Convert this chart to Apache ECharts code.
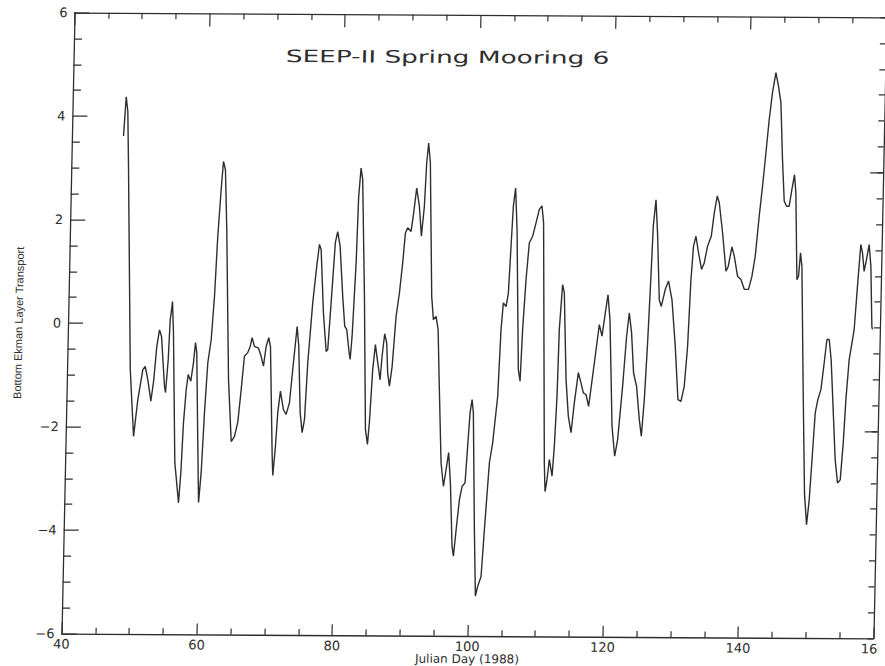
<!DOCTYPE html>
<html>
<head>
<meta charset="utf-8">
<title>SEEP-II Spring Mooring 6</title>
<script src="https://cdn.jsdelivr.net/npm/echarts@6/dist/echarts.min.js"></script>
<style>
  html, body { margin: 0; padding: 0; background: #fff; overflow: hidden; }
  /* the scanned original sits slightly sheared on the page */
  #chart {
    width: 885px;
    height: 666px;
    transform-origin: 474px 325px;
    transform: skewX(-1.2deg) skewY(0.34deg);
  }
</style>
</head>
<body>
<div id="chart"></div>
<script>
  // julian day (1988) and bottom ekman layer transport
  const days = [
    47.62, 47.90, 48.18, 48.45, 49.34, 50.03, 50.55, 51.20, 51.54, 51.96,
    52.48, 52.85, 53.19, 53.54, 53.86, 54.45, 54.62, 54.92, 55.09, 55.21,
    55.37, 55.61, 56.21, 56.88, 57.13, 57.37, 57.67, 57.92, 58.32, 58.66,
    58.90, 59.12, 59.56, 59.84, 60.14, 60.44, 60.78, 61.21, 61.56, 61.86,
    62.22, 62.47, 62.79, 63.17, 63.89, 64.48, 64.95, 65.39, 65.79, 66.17,
    66.65, 66.99, 67.25, 67.62, 68.22, 68.64, 69.01, 69.35, 69.71, 69.99,
    70.58, 70.73, 71.03, 71.27, 71.60, 72.10, 72.51, 72.97, 73.35, 73.87,
    74.17, 74.58, 74.93, 75.24, 75.55, 76.10, 76.58, 76.91, 77.18, 77.71,
    78.23, 78.46, 78.82, 79.26, 79.57, 79.97, 80.51, 80.90, 81.21, 81.57,
    81.80, 82.02, 82.39, 82.56, 82.83, 83.10, 83.72, 84.28, 84.62, 84.84,
    85.17, 85.49, 85.89, 86.29, 86.51, 86.83, 87.16, 87.39, 87.69, 88.03,
    88.46, 88.88, 89.27, 89.58, 89.90, 90.41, 90.74, 91.11, 91.56, 91.95,
    92.30, 92.51, 92.74, 93.05, 93.66, 93.98, 94.37, 94.71, 95.08, 95.56,
    95.98, 96.32, 96.65, 97.00, 97.44, 97.67, 97.99, 98.38, 98.74, 99.17,
    99.44, 99.69, 99.95, 100.18, 100.69, 101.04, 101.35, 101.82, 102.17, 102.70,
    103.12, 103.72, 104.01, 104.27, 104.68, 104.98, 105.23, 105.45, 105.73, 106.07,
    106.69, 106.98, 107.20, 107.55, 107.92, 108.39, 108.85, 109.30, 109.68, 109.97,
    110.82, 111.01, 111.27, 111.55, 112.00, 112.25, 112.49, 112.62, 112.97, 113.25,
    113.77, 114.22, 114.67, 115.07, 115.57, 116.00, 116.37, 116.77, 117.19, 117.90,
    118.52, 118.95, 119.37, 119.71, 120.08, 120.71, 121.19, 121.58, 122.15, 122.59,
    122.91, 123.31, 123.73, 124.22, 124.72, 125.07, 125.40, 125.71, 126.00, 126.19,
    126.51, 126.84, 127.30, 127.62, 128.16, 128.62, 129.18, 129.81, 130.37, 130.82,
    131.26, 131.63, 131.92, 132.20, 132.53, 132.96, 133.46, 133.84, 134.27, 134.79,
    135.16, 135.55, 135.87, 136.45, 137.07, 137.39, 137.88, 138.25, 138.80, 139.31,
    139.83, 140.46, 140.92, 141.35, 141.81, 142.21, 142.61, 142.99, 143.39, 143.84,
    144.26, 144.67, 145.08, 145.46, 145.82, 146.21, 146.56, 146.90, 147.16, 147.58,
    147.81, 148.03, 148.28, 148.86, 149.36, 149.76, 150.08, 150.42, 150.70, 151.05,
    151.47, 151.87, 152.20, 152.54, 152.89, 153.34, 153.79, 154.21, 154.60, 154.93,
    155.19, 155.55, 156.20, 156.55, 156.92, 157.19, 157.49, 157.80, 158.15, 158.47,
    158.80, 158.90
  ]
  const transport = [
    3.62, 4.38, 4.10, 3.04, -0.89, -2.18, -1.47, -0.89, -0.83, -1.08,
    -1.50, -1.08, -0.44, -0.12, -0.25, -1.21, -1.33, -0.69, 0.08, 0.21,
    0.43, -0.17, -2.68, -3.46, -2.88, -1.91, -1.27, -0.98, -1.11, -0.75,
    -0.36, -0.56, -2.37, -3.45, -2.87, -1.71, -0.75, -0.30, 0.53, 1.69,
    2.60, 3.14, 2.98, 1.82, -1.07, -2.27, -2.17, -1.90, -1.27, -0.62,
    -0.55, -0.43, -0.26, -0.43, -0.46, -0.62, -0.81, -0.43, -0.26, -0.43,
    -2.55, -2.92, -2.36, -1.71, -1.29, -1.65, -1.74, -1.51, -0.87, -0.04,
    -0.42, -1.70, -2.09, -1.84, -0.74, 0.42, 1.13, 1.55, 1.45, 0.23,
    -0.52, -0.48, 0.43, 1.59, 1.80, 1.52, 0.55, -0.03, -0.09, -0.48,
    -0.67, -0.22, 1.20, 2.48, 3.03, 2.81, 0.55, -2.02, -2.31, -1.89,
    -0.86, -0.38, -0.73, -1.06, -0.61, -0.17, -0.35, -0.93, -1.18, -0.80,
    0.17, 0.62, 1.20, 1.78, 1.88, 1.81, 2.17, 2.65, 2.30, 1.72,
    2.30, 3.14, 3.52, 3.14, 0.56, 0.11, 0.17, -0.08, -1.24, -2.66,
    -3.11, -2.79, -2.46, -3.04, -4.27, -4.46, -3.95, -3.37, -3.11, -3.04,
    -2.33, -1.69, -1.43, -1.69, -3.94, -5.23, -5.04, -4.85, -3.94, -2.65,
    -2.27, -1.37, -0.08, 0.44, 0.37, 0.63, 1.53, 2.31, 2.66, 1.86,
    -0.85, -1.07, -0.07, 0.89, 1.60, 1.73, 1.99, 2.25, 2.32, 1.99,
    -2.65, -3.20, -2.97, -2.58, -2.90, -2.32, -1.36, -0.07, 0.80, 0.64,
    -1.03, -1.74, -2.06, -1.48, -0.90, -1.10, -1.29, -1.32, -1.55, -0.71,
    0.03, -0.19, 0.26, 0.61, 0.13, -1.93, -2.51, -2.19, -1.16, -0.19,
    0.26, -0.12, -0.90, -1.16, -1.80, -2.12, -1.41, -0.32, 0.97, 1.94,
    2.45, 1.81, 0.52, 0.39, 0.72, 0.88, 0.52, -0.38, -1.41, -1.44,
    -1.15, -0.38, 0.91, 1.56, 1.75, 1.43, 1.11, 1.24, 1.56, 1.75,
    2.20, 2.53, 2.40, 1.82, 1.08, 1.17, 1.55, 1.37, 0.98, 0.92,
    0.73, 0.73, 0.98, 1.37, 2.14, 2.72, 3.37, 4.01, 4.53, 4.92,
    4.66, 4.34, 3.24, 2.44, 2.34, 2.34, 2.66, 2.95, 2.60, 0.92,
    0.99, 1.44, 1.18, -1.26, -3.20, -3.81, -3.33, -2.42, -1.65, -1.39,
    -1.20, -0.68, -0.23, -0.23, -0.62, -1.58, -2.55, -3.00, -2.94, -2.23,
    -1.39, -0.62, -0.03, 0.80, 1.61, 1.45, 1.09, 1.32, 1.61, 1.19,
    0.03, -0.03
  ]
  const xTicks = [40, 60, 80, 100, 120, 140, 160]
  const yTicks = [-6, -4, -2, 0, 2, 4, 6]
  const rightLongTicks = [-2, 3]

  const ink = '#2e2e2e'
  const font = 'DejaVu Sans'

  const chart = echarts.init(document.getElementById('chart'), null, { renderer: 'svg' })

  const frameX = (pos, show) => ({
    type: 'value',
    position: pos,
    min: xTicks[0],
    max: xTicks[xTicks.length - 1],
    interval: 20,
    axisLine: { show: true, onZero: false, lineStyle: { color: ink, width: 1.3 } },
    axisTick: { show: true, inside: true, length: pos === 'bottom' ? 11 : 13, lineStyle: { color: ink, width: 1.2 } },
    minorTick: { show: true, splitNumber: 4, length: 6, lineStyle: { color: ink, width: 1.2 } },
    splitLine: { show: false },
    axisLabel: {
      show: show,
      color: ink,
      fontFamily: font,
      fontSize: 13,
      margin: 4
    }
  })

  const frameY = (pos, show) => ({
    type: 'value',
    position: pos,
    min: yTicks[0],
    max: yTicks[yTicks.length - 1],
    interval: 2,
    axisLine: { show: true, onZero: false, lineStyle: { color: ink, width: 1.3 } },
    axisTick: { show: true, inside: true, length: 15, lineStyle: { color: ink, width: 1.2 } },
    minorTick: { show: true, splitNumber: 4, length: 8, lineStyle: { color: ink, width: 1.2 } },
    splitLine: { show: false },
    axisLabel: {
      show: show,
      color: ink,
      fontFamily: font,
      fontSize: 13,
      margin: 7,
      formatter: v => (v < 0 ? '\u2212' + Math.abs(v) : String(v))
    }
  })

  const bottomAxis = frameX('bottom', true)
  bottomAxis.name = 'Julian Day (1988)'
  bottomAxis.nameLocation = 'middle'
  bottomAxis.nameGap = 17
  bottomAxis.nameMoveOverlap = false
  bottomAxis.nameTextStyle = { color: ink, fontFamily: font, fontSize: 12 }

  const leftAxis = frameY('left', true)
  leftAxis.name = 'Bottom Ekman Layer Transport'
  leftAxis.nameLocation = 'middle'
  leftAxis.nameGap = 44
  leftAxis.nameMoveOverlap = false
  leftAxis.nameTextStyle = { color: ink, fontFamily: 'Liberation Sans Narrow, Liberation Sans', fontSize: 11 }

  // right frame: short ticks every 0.5, long ones only at -2 and 3
  const rightAxis = frameY('right', false)
  rightAxis.interval = 0.5
  rightAxis.axisTick.length = 6
  rightAxis.minorTick = { show: false }
  const rightLong = frameY('right', false)
  rightLong.axisLine = { show: false }
  rightLong.minorTick = { show: false }
  rightLong.axisTick.length = 13
  rightLong.axisTick.customValues = rightLongTicks

  const option = {
    animation: false,
    backgroundColor: '#fff',
    grid: {
      left: 68,
      right: 5,
      top: 15,
      bottom: 30,
      containLabel: false,
      outerBoundsMode: 'none'
    },
    graphic: [{
      type: 'text',
      x: 442,
      y: 57,
      scaleX: 1.55,
      style: {
        text: 'SEEP-II Spring Mooring 6',
        font: '17px DejaVu Sans',
        fill: ink,
        align: 'center',
        verticalAlign: 'middle',
        textAlign: 'center',
        textVerticalAlign: 'middle'
      }
    }],
    xAxis: [bottomAxis, frameX('top', false)],
    yAxis: [leftAxis, rightAxis, rightLong],
    series: [{
      type: 'line',
      xAxisIndex: 0,
      yAxisIndex: 0,
      data: days.map((d, i) => [d, transport[i]]),
      showSymbol: false,
      lineStyle: { color: ink, width: 1.4 }
    }]
  }
  chart.setOption(option)
</script>
</body>
</html>
